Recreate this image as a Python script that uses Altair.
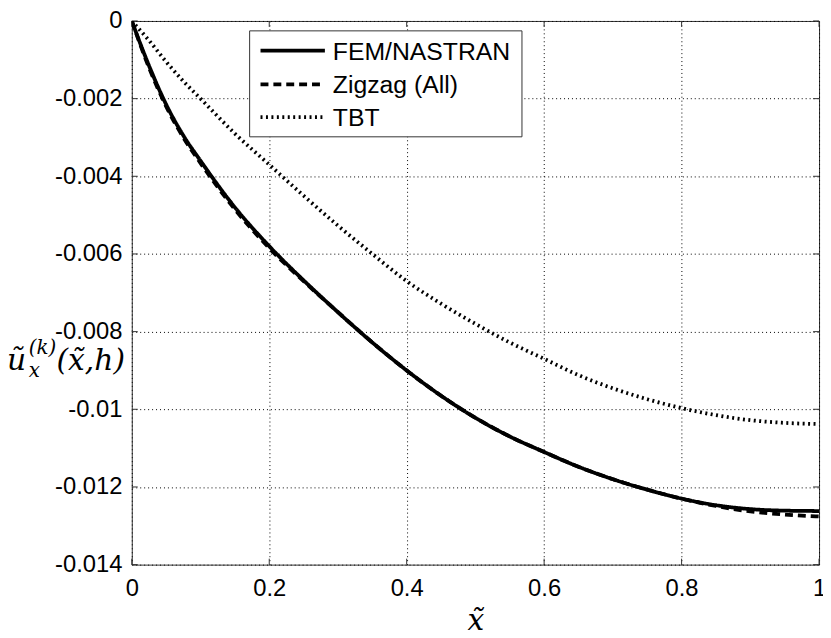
import altair as alt
import pandas as pd

x_vals = [0, 0.025, 0.05, 0.075, 0.1, 0.15, 0.2, 0.25, 0.3, 0.35, 0.4, 0.45, 0.5,
          0.55, 0.6, 0.65, 0.7, 0.75, 0.8, 0.85, 0.9, 0.95, 1.0]
fem = [0, -0.00115, -0.00215, -0.00295, -0.0036, -0.0048, -0.0058, -0.00668, -0.0075,
       -0.00828, -0.0090, -0.00965, -0.01022, -0.0107, -0.0111, -0.01148, -0.0118,
       -0.01207, -0.0123, -0.01247, -0.01257, -0.01261, -0.01262]
zigzag = [0, -0.0012, -0.0022, -0.0030, -0.00366, -0.00485, -0.00585, -0.0067, -0.0075,
          -0.00828, -0.0090, -0.00965, -0.01022, -0.0107, -0.0111, -0.01148, -0.0118,
          -0.01207, -0.0123, -0.01249, -0.01263, -0.01271, -0.01276]
tbt = [0, -0.0005, -0.00105, -0.00155, -0.0020, -0.0029, -0.0037, -0.0045, -0.00527,
       -0.0060, -0.0067, -0.00728, -0.0078, -0.00828, -0.0087, -0.00912, -0.00946,
       -0.00974, -0.00997, -0.01015, -0.01028, -0.01035, -0.01038]
series_names = ["FEM/NASTRAN", "Zigzag (All)", "TBT"]
series_dash = [[1, 0], [8, 5], [2, 3.5]]
x_ticks = [0, 0.2, 0.4, 0.6, 0.8, 1]
y_ticks = [0, -0.002, -0.004, -0.006, -0.008, -0.01, -0.012, -0.014]

rows = []
for name, vals in zip(series_names, [fem, zigzag, tbt]):
    for xv, yv in zip(x_vals, vals):
        rows.append({"x": xv, "y": yv, "series": name})
df = pd.DataFrame(rows)

W, H = 694, 549
LABEL_FONT = "Liberation Sans"
MATH_FONT = "DejaVu Serif"

xscale = alt.Scale(domain=[0, 1], nice=False)
yscale = alt.Scale(domain=[-0.014, 0], nice=False)

lines = alt.Chart(df).mark_line(strokeWidth=3.8, clip=True, color="black",
                                interpolate="monotone").encode(
    x=alt.X("x:Q", scale=xscale, axis=alt.Axis(
        values=x_ticks, format="~g", title="x̃", labelFlush=False,
        labelOverlap=False, labelPadding=12, labelFont=LABEL_FONT,
        labelFontSize=24, labelColor="black",
        titleFont=MATH_FONT, titleFontStyle="italic", titleColor="black",
        titleFontWeight="normal", titleFontSize=30, titlePadding=6)),
    y=alt.Y("y:Q", scale=yscale, axis=alt.Axis(
        values=y_ticks, labelOverlap=False, labelFlush=False,
        labelPadding=10, labelFont=LABEL_FONT, labelFontSize=24, labelColor="black",
        labelExpr="datum.value == 0 ? '0' : '-' + format(-datum.value, '~g')",
        title="")),
    detail="series:N",
    strokeDash=alt.StrokeDash("series:N", scale=alt.Scale(domain=series_names,
                    range=series_dash), legend=None),
)

ydf = pd.DataFrame({"y": y_ticks})
xdf = pd.DataFrame({"x": x_ticks})
tl = alt.Chart(ydf).mark_rule(color="#333").encode(y=alt.Y("y:Q", scale=yscale), x=alt.value(0), x2=alt.value(6))
tr = alt.Chart(ydf).mark_rule(color="#333").encode(y=alt.Y("y:Q", scale=yscale), x=alt.value(W - 6), x2=alt.value(W))
tb = alt.Chart(xdf).mark_rule(color="#333").encode(x=alt.X("x:Q", scale=xscale), y=alt.value(H), y2=alt.value(H - 6))
tt = alt.Chart(xdf).mark_rule(color="#333").encode(x=alt.X("x:Q", scale=xscale), y=alt.value(0), y2=alt.value(6))

one = pd.DataFrame({"t": [""]})

# legend box (MATLAB style, drawn inside the axes)
LX0, LX1, LY0, LY1 = 119, 394, 10, 117
legend_layers = [
    alt.Chart(one).mark_rect(fill="white", stroke="#333", strokeWidth=1).encode(
        x=alt.value(LX0), x2=alt.value(LX1), y=alt.value(LY0), y2=alt.value(LY1))
]
row_y = [30, 64, 97]
for name, dash, ry in zip(series_names, series_dash, row_y):
    legend_layers.append(
        alt.Chart(one).mark_rule(color="black", strokeWidth=3.8, strokeDash=dash).encode(
            x=alt.value(130), x2=alt.value(195), y=alt.value(ry)))
    legend_layers.append(
        alt.Chart(pd.DataFrame({"t": [name]})).mark_text(
            font=LABEL_FONT, fontSize=25, align="left", baseline="middle",
            color="black").encode(text="t:N", x=alt.value(203), y=alt.value(ry + 1)))


# y-axis title, composed like the LaTeX original: u~ with stacked (k) and x
def math_text(txt, x, y, size):
    return alt.Chart(pd.DataFrame({"t": [txt]})).mark_text(
        font=MATH_FONT, fontStyle="italic", fontSize=size, align="left",
        baseline="alphabetic", color="black").encode(
        text="t:N", x=alt.value(x), y=alt.value(y))


ytitle = [
    math_text("ũ", -126, 352, 30),
    math_text("(k)", -104, 336, 20),
    math_text("x", -104, 360, 20),
    math_text("(x̃,h)", -76, 352, 30),
]

chart = alt.layer(tl, tr, tb, tt, lines, *legend_layers, *ytitle).properties(
    width=W, height=H, background="white",
    autosize=alt.AutoSizeParams(type="none"),
    padding={"left": 125, "top": 10, "right": 4, "bottom": 70},
).configure_view(stroke="#333", strokeWidth=1).configure_axis(
    ticks=False, domain=False, grid=True, gridDash=[1, 3], gridColor="black",
    gridOpacity=1, gridWidth=1,
)

chart.save("out.html", embed_options={"renderer": "svg", "actions": False})
